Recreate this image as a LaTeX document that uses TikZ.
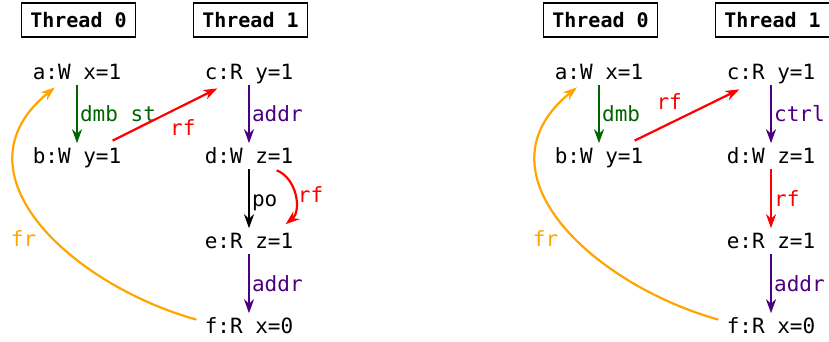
\documentclass[tikz,border=0pt]{standalone}
\usepackage{fontspec}
\setmonofont{DejaVu Sans Mono}
\usetikzlibrary{arrows.meta}
\definecolor{EvGreen}{HTML}{006400}
\definecolor{EvPurple}{HTML}{4B0082}
\definecolor{EvOrange}{HTML}{FFA500}
\definecolor{EvRed}{HTML}{FF0000}
\tikzset{
  event/.style={font=\ttfamily\fontsize{10.5}{12}\selectfont, anchor=base,
    inner xsep=0pt, inner ysep=2.5pt, text height=7.7pt, text depth=0pt},
  thread/.style={draw, line width=0.6pt, font=\ttfamily\bfseries\fontsize{10}{12}\selectfont,
    minimum height=17pt, inner xsep=4.25pt},
  rel/.style={-{Stealth[length=7pt,width=5pt]}, line width=1.1pt},
  lbl/.style={font=\ttfamily\fontsize{10.5}{12}\selectfont, inner sep=1pt,
    text height=7.7pt, text depth=0pt},
}
\begin{document}
\begin{tikzpicture}[x=0.5pt,y=0.5pt]
  \useasboundingbox (0,0) rectangle (829,342);
  % first execution
  \begin{scope}[name prefix=l-]
    \node[thread] (t0) at (78.5,322) {Thread 0};
    \node[thread] (t1) at (250.5,322) {Thread 1};
    \node[event] (a) at (77,262) {a:W x=1};
    \node[event] (b) at (77,178) {b:W y=1};
    \node[event] (c) at (249,262) {c:R y=1};
    \node[event] (d) at (249,178) {d:W z=1};
    \node[event] (e) at (249,93) {e:R z=1};
    \node[event] (f) at (249,8) {f:R x=0};
    \draw[rel,EvGreen] (a) -- node[lbl,right]{dmb st} (b);
    \draw[rel,EvRed] ([shift={(-9,2.6)}]b.north east) -- node[lbl,pos=0.67,below=5.5pt]{rf} ([shift={(13,-3)}]c.south west);
    \draw[rel,EvPurple] (c) -- node[lbl,right]{addr} (d);
    \draw[rel] (d) -- node[lbl,right]{po} (e);
    \draw[rel,EvRed] ([shift={(-17,-1)}]d.south east) to[bend left=60] node[lbl,right]{rf} ([shift={(-8,4)}]e.north east);
    \draw[rel,EvPurple] (e) -- node[lbl,right]{addr} (f);
    \draw[rel,EvOrange] ([shift={(-8,-6.4)}]f.north west) .. controls +(-125,35) and +(-105,-85) .. node[lbl,pos=0.5,anchor=north east,yshift=-3pt]{fr} ([shift={(22.5,-2)}]a.south west);
  \end{scope}
  % second execution
  \begin{scope}[name prefix=r-, shift={(522,0)}]
    \node[thread] (t0) at (78.5,322) {Thread 0};
    \node[thread] (t1) at (250.5,322) {Thread 1};
    \node[event] (a) at (77,262) {a:W x=1};
    \node[event] (b) at (77,178) {b:W y=1};
    \node[event] (c) at (249,262) {c:R y=1};
    \node[event] (d) at (249,178) {d:W z=1};
    \node[event] (e) at (249,93) {e:R z=1};
    \node[event] (f) at (249,8) {f:R x=0};
    \draw[rel,EvGreen] (a) -- node[lbl,right]{dmb} (b);
    \draw[rel,EvRed] ([shift={(-9,2.6)}]b.north east) -- node[lbl,pos=0.33,above=5.5pt]{rf} ([shift={(13,-4)}]c.south west);
    \draw[rel,EvPurple] (c) -- node[lbl,right]{ctrl} (d);
    \draw[rel,EvRed] (d) -- node[lbl,right]{rf} (e);
    \draw[rel,EvPurple] (e) -- node[lbl,right]{addr} (f);
    \draw[rel,EvOrange] ([shift={(-8,-6.4)}]f.north west) .. controls +(-125,35) and +(-105,-85) .. node[lbl,pos=0.5,anchor=north east,yshift=-3pt]{fr} ([shift={(22.5,-2)}]a.south west);
  \end{scope}
\end{tikzpicture}
\end{document}
